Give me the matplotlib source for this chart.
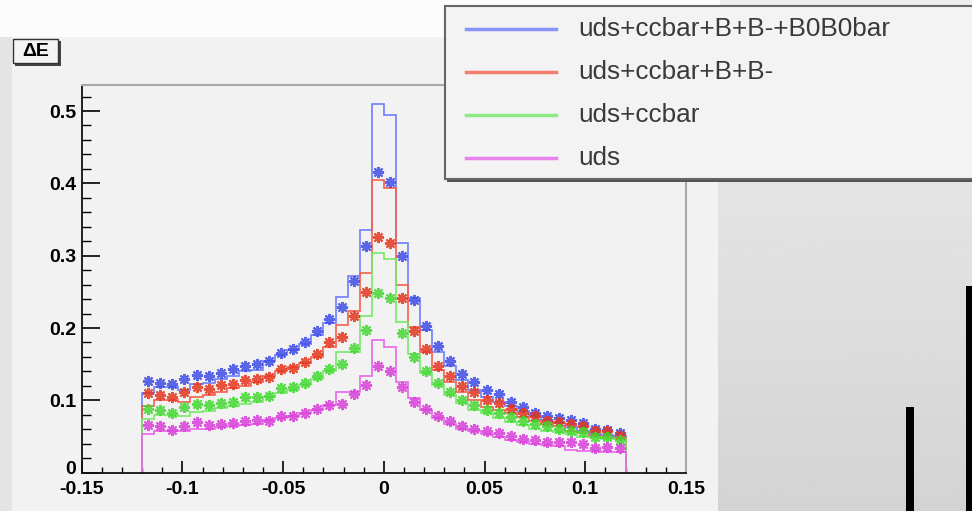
import numpy as np
import matplotlib
matplotlib.use("Agg")
import matplotlib.pyplot as plt
import matplotlib.transforms as mtransforms
from matplotlib.patches import Rectangle

# binning: 40 bins of 0.006 from -0.12 to 0.12
edges = np.linspace(-0.12, 0.12, 41)
centers = 0.5 * (edges[:-1] + edges[1:])

labels = ["uds+ccbar+B+B-+B0B0bar", "uds+ccbar+B+B-", "uds+ccbar", "uds"]

# histogram (line) values per bin
line_all = [0.110, 0.118, 0.118, 0.115, 0.122, 0.124, 0.130, 0.133, 0.140, 0.142,
            0.155, 0.163, 0.170, 0.178, 0.190, 0.207, 0.243, 0.272, 0.336, 0.510,
            0.494, 0.317, 0.242, 0.197, 0.167, 0.147, 0.128, 0.114, 0.105, 0.098,
            0.092, 0.085, 0.078, 0.073, 0.069, 0.063, 0.058, 0.054, 0.052, 0.051]
line_bpm = [0.092, 0.100, 0.100, 0.098, 0.105, 0.107, 0.112, 0.117, 0.120, 0.125,
            0.133, 0.140, 0.146, 0.152, 0.160, 0.174, 0.204, 0.223, 0.276, 0.405,
            0.393, 0.259, 0.202, 0.167, 0.142, 0.126, 0.112, 0.100, 0.091, 0.087,
            0.082, 0.077, 0.072, 0.068, 0.064, 0.057, 0.055, 0.051, 0.050, 0.048]
line_cc = [0.074, 0.080, 0.080, 0.078, 0.084, 0.085, 0.089, 0.092, 0.095, 0.098,
           0.104, 0.110, 0.115, 0.121, 0.130, 0.140, 0.167, 0.167, 0.216, 0.304,
           0.295, 0.209, 0.164, 0.138, 0.121, 0.107, 0.096, 0.087, 0.082, 0.075,
           0.070, 0.066, 0.060, 0.058, 0.056, 0.053, 0.050, 0.049, 0.047, 0.046]
line_uds = [0.054, 0.058, 0.058, 0.057, 0.060, 0.061, 0.063, 0.064, 0.066, 0.068,
            0.073, 0.076, 0.079, 0.083, 0.087, 0.094, 0.111, 0.111, 0.133, 0.183,
            0.174, 0.126, 0.103, 0.087, 0.075, 0.068, 0.061, 0.057, 0.054, 0.050,
            0.045, 0.042, 0.040, 0.038, 0.037, 0.031, 0.030, 0.030, 0.029, 0.029]

# points (asterisk markers) per bin
pts_all = [0.127, 0.124, 0.122, 0.130, 0.135, 0.133, 0.138, 0.143, 0.147, 0.150,
           0.154, 0.166, 0.171, 0.181, 0.196, 0.213, 0.229, 0.265, 0.314, 0.415,
           0.402, 0.300, 0.239, 0.203, 0.175, 0.155, 0.137, 0.125, 0.114, 0.109,
           0.098, 0.091, 0.083, 0.079, 0.076, 0.073, 0.069, 0.061, 0.059, 0.055]
pts_bpm = [0.110, 0.107, 0.105, 0.112, 0.118, 0.116, 0.121, 0.122, 0.128, 0.130,
           0.132, 0.143, 0.145, 0.153, 0.164, 0.180, 0.188, 0.217, 0.250, 0.326,
           0.317, 0.241, 0.196, 0.171, 0.148, 0.134, 0.120, 0.111, 0.101, 0.097,
           0.088, 0.083, 0.079, 0.072, 0.070, 0.068, 0.064, 0.057, 0.057, 0.052]
pts_cc = [0.088, 0.086, 0.082, 0.091, 0.095, 0.093, 0.097, 0.098, 0.104, 0.104,
          0.106, 0.117, 0.118, 0.124, 0.133, 0.144, 0.150, 0.172, 0.197, 0.248,
          0.241, 0.193, 0.160, 0.140, 0.124, 0.112, 0.100, 0.094, 0.087, 0.083,
          0.077, 0.071, 0.068, 0.064, 0.061, 0.058, 0.056, 0.050, 0.050, 0.045]
pts_uds = [0.066, 0.064, 0.059, 0.065, 0.070, 0.066, 0.068, 0.069, 0.072, 0.073,
           0.071, 0.079, 0.079, 0.083, 0.088, 0.094, 0.095, 0.109, 0.121, 0.148,
           0.140, 0.118, 0.098, 0.088, 0.079, 0.072, 0.065, 0.060, 0.057, 0.055,
           0.051, 0.047, 0.045, 0.043, 0.043, 0.043, 0.040, 0.034, 0.035, 0.034]

line_cols = ["#6f7dff", "#f5604c", "#78e868", "#e866ea"]
pt_cols = ["#3f4de6", "#e3371f", "#45d834", "#d93fd9"]

W, H = 972, 511
fig = plt.figure(figsize=(W / 100, H / 100), dpi=100)
fig.patch.set_facecolor("#f2f2f2")

def px_rect(x0, y0, x1, y1, **kw):
    # rectangle in pixel coords (y from top)
    r = Rectangle((x0 / W, 1 - y1 / H), (x1 - x0) / W, (y1 - y0) / H,
                  transform=fig.transFigure, **kw)
    fig.patches.append(r)
    return r

# background pieces
px_rect(0, 0, 720, 37, facecolor="#fcfcfc", edgecolor="none", zorder=0)
px_rect(0, 37, 12, 511, facecolor="#e4e4e4", edgecolor="none", zorder=0)
bg = fig.add_axes([718 / W, 0, 1 - 718 / W, 1], zorder=-1)
grad = np.linspace(0.93, 0.83, 200).reshape(-1, 1)
bg.imshow(grad, cmap="gray", vmin=0, vmax=1, aspect="auto", extent=[0, 1, 0, 1])
bg.axis("off")
px_rect(906, 407, 914, 511, facecolor="black", edgecolor="none", zorder=1)
px_rect(966, 286, 972, 511, facecolor="black", edgecolor="none", zorder=1)

# main axes
x0, x1, ytop, ybot = 81.7, 686, 85, 472.7
ax = fig.add_axes([x0 / W, 1 - ybot / H, (x1 - x0) / W, (ybot - ytop) / H])
ax.set_facecolor("#f2f2f2")
ax.set_xlim(-0.15, 0.15)
ax.set_ylim(0, (ybot - ytop) / 723.4)

series_lines = [line_all, line_bpm, line_cc, line_uds]
series_pts = [pts_all, pts_bpm, pts_cc, pts_uds]
for vals, c in zip(series_lines, line_cols):
    ax.stairs(vals, edges, baseline=0, color=c, lw=1.2, zorder=2)
for vals, c in zip(series_pts, pt_cols):
    ax.plot(centers, vals, ls="none", marker=(8, 2, 0), ms=8, mew=1.5,
            color=c, alpha=0.85, zorder=3)

ax.set_xticks(np.arange(-0.15, 0.151, 0.05))
ax.set_xticks(np.arange(-0.15, 0.151, 0.01), minor=True)
ax.set_yticks(np.arange(0, 0.51, 0.1))
ax.set_yticks(np.arange(0, 0.53, 0.02), minor=True)
ax.set_xticklabels(["-0.15", "-0.1", "-0.05", "0", "0.05", "0.1", "0.15"])
ax.set_yticklabels(["0", "0.1", "0.2", "0.3", "0.4", "0.5"])
ax.tick_params(axis="x", which="major", direction="in", length=8.5, width=1.2, pad=6,
               labelsize=14)
ax.tick_params(axis="x", which="minor", direction="in", length=4.5, width=1.0)
ax.tick_params(axis="y", which="major", direction="in", length=13, width=1.2, pad=4,
               labelsize=14)
ax.tick_params(axis="y", which="minor", direction="in", length=6.5, width=1.0)
for lab in ax.get_xticklabels() + ax.get_yticklabels():
    lab.set_fontweight("bold")
    lab.set_family("Liberation Sans")
# the "0" on the y axis sits a little higher, as in the original
zero_lab = ax.get_yticklabels()[0]
zero_lab.set_transform(zero_lab.get_transform() +
                       mtransforms.ScaledTranslation(0, 4 / 72, fig.dpi_scale_trans))
for s in ["left", "bottom"]:
    ax.spines[s].set_linewidth(1.3)
    ax.spines[s].set_color("#111111")
for s in ["top", "right"]:
    ax.spines[s].set_linewidth(1.5)
    ax.spines[s].set_color("#a8a8a8")

# title box
px_rect(15, 41, 61, 66, facecolor="#444444", edgecolor="none", zorder=4)
px_rect(13, 39, 58, 63, facecolor="#f4f4f4", edgecolor="#333333", lw=1, zorder=5)
fig.text(35.5 / W, 1 - 51.5 / H, "ΔE", ha="center", va="center", fontsize=14,
         fontweight="bold", family="Liberation Sans", zorder=6)

# legend box
px_rect(447, 8, 980, 182, facecolor="#555555", edgecolor="none", zorder=6)
px_rect(445, 6, 978, 179, facecolor="#f3f3f3", edgecolor="#666666", lw=1.5, zorder=7)
for i, (lab, c) in enumerate(zip(labels, line_cols)):
    yy = 1 - (29 + 43 * i) / H
    fig.add_artist(plt.Line2D([466 / W, 556 / W], [yy, yy], color=c, lw=2.5,
                              alpha=0.8, transform=fig.transFigure, zorder=8))
    fig.text(578 / W, yy, lab, ha="left", va="center", fontsize=18.8,
             family="Liberation Sans", color="#3a3a3a", zorder=8)

fig.savefig("out.png", dpi=100, facecolor=fig.get_facecolor())
